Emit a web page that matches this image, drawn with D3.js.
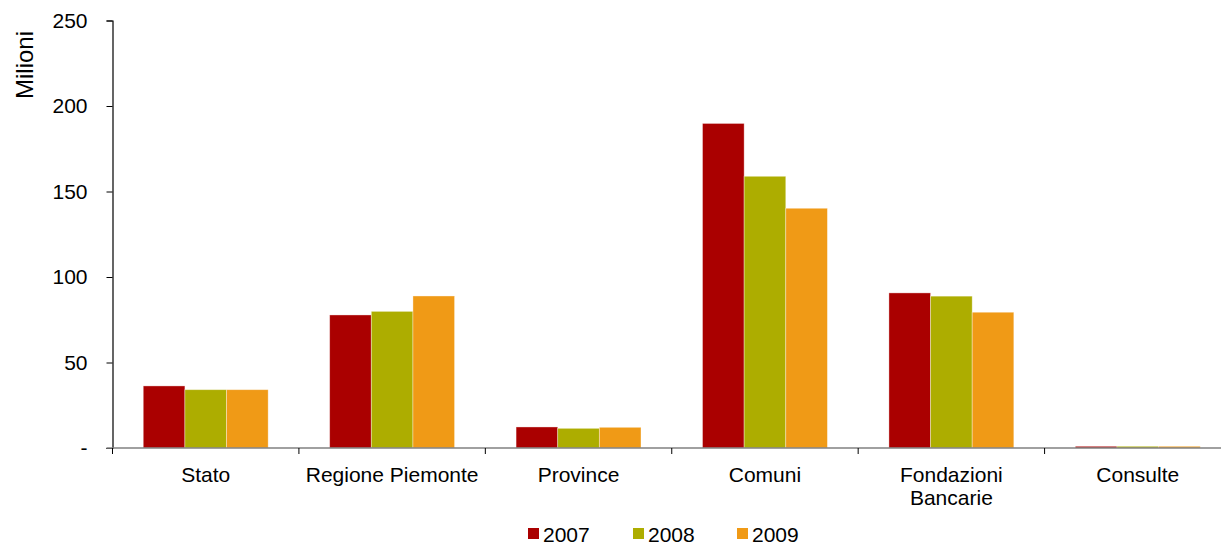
<!DOCTYPE html>
<html>
<head>
<meta charset="utf-8">
<script src="https://cdn.jsdelivr.net/npm/d3@7"></script>
<style>
  html, body { margin: 0; padding: 0; background: #fff; }
  svg { display: block; font-family: "Liberation Sans", Arial, sans-serif; }
</style>
</head>
<body>
<svg id="chart" width="1221" height="546"></svg>
<script>
const categories = ["Stato", "Regione Piemonte", "Province", "Comuni", "Fondazioni\nBancarie", "Consulte"];
const years = ["2007", "2008", "2009"];
const v2007 = [36.3, 77.8, 12.3, 189.8, 90.7, 1.0];
const v2008 = [34.1, 79.9, 11.5, 158.9, 88.8, 1.0];
const v2009 = [34.1, 88.9, 12.1, 140.2, 79.4, 1.0];
const seriesValues = [v2007, v2008, v2009];
const colors = ["#AA0000", "#ADAD00", "#F09A16"];
const yTicks = [0, 50, 100, 150, 200, 250];

const svg = d3.select("#chart");
const x0 = 112.5, x1 = 1231, yBottom = 448, yTop = 20.5;

const x = d3.scaleBand().domain(categories).range([x0, x1]).paddingInner(0.33).paddingOuter(0.165);
const xs = d3.scaleBand().domain(years).range([0, x.bandwidth()]);
const y = d3.scaleLinear().domain([0, 250]).range([yBottom, yTop]);

// bars
years.forEach((yr, si) => {
  svg.append("g").selectAll("rect")
    .data(categories.map((c, i) => ({ c, v: seriesValues[si][i] })))
    .join("rect")
    .attr("x", d => x(d.c) + xs(yr))
    .attr("y", d => y(d.v))
    .attr("width", xs.bandwidth())
    .attr("height", d => y(0) - y(d.v))
    .attr("fill", colors[si])
    .attr("stroke", "rgba(255,255,255,0.45)")
    .attr("stroke-width", 0.8);
});

// y axis
const yAxis = svg.append("g")
  .attr("transform", `translate(${x0},0)`)
  .call(d3.axisLeft(y).tickValues(yTicks).tickSize(6).tickPadding(19)
    .tickFormat(d => d === 0 ? "-" : d));
yAxis.select(".domain").attr("stroke", "#000").attr("stroke-width", 1.2);
yAxis.selectAll(".tick line").attr("stroke", "#000");
yAxis.selectAll(".tick text").attr("font-size", 21).attr("fill", "#000")
  .attr("font-family", "Liberation Sans, Arial, sans-serif");

// x axis
const xAxisScale = d3.scalePoint().domain(d3.range(7)).range([x0, x1]);
svg.append("line").attr("x1", x0 - 6).attr("x2", x1).attr("y1", y(0)).attr("y2", y(0))
  .attr("stroke", "#808080").attr("stroke-width", 1.6);
svg.append("g").selectAll("line").data(d3.range(7)).join("line")
  .attr("x1", d => xAxisScale(d)).attr("x2", d => xAxisScale(d))
  .attr("y1", y(0)).attr("y2", y(0) + 6)
  .attr("stroke", "#000").attr("stroke-width", 1);

// category labels
const lab = svg.append("g").selectAll("text").data(categories).join("text")
  .attr("x", d => x(d) + x.bandwidth() / 2)
  .attr("y", 481.5)
  .attr("text-anchor", "middle")
  .attr("font-size", 21)
  .attr("fill", "#000");
lab.each(function(d) {
  const lines = d.split("\n");
  d3.select(this).selectAll("tspan").data(lines).join("tspan")
    .attr("x", x(d) + x.bandwidth() / 2)
    .attr("dy", (l, i) => i === 0 ? 0 : 23.5)
    .text(l => l);
});

// y title
svg.append("text")
  .attr("transform", "translate(33,65) rotate(-90)")
  .attr("text-anchor", "middle")
  .attr("font-size", 24)
  .attr("fill", "#000")
  .text("Milioni");

// legend
const legX = [528, 633, 737];
const leg = svg.append("g").selectAll("g").data(years).join("g")
  .attr("transform", (d, i) => `translate(${legX[i]},0)`);
leg.append("rect").attr("x", 0).attr("y", 528).attr("width", 11).attr("height", 11)
  .attr("fill", (d, i) => colors[i]);
leg.append("text").attr("x", 15).attr("y", 541.5).attr("font-size", 21).attr("fill", "#000")
  .text(d => d);
</script>
</body>
</html>
